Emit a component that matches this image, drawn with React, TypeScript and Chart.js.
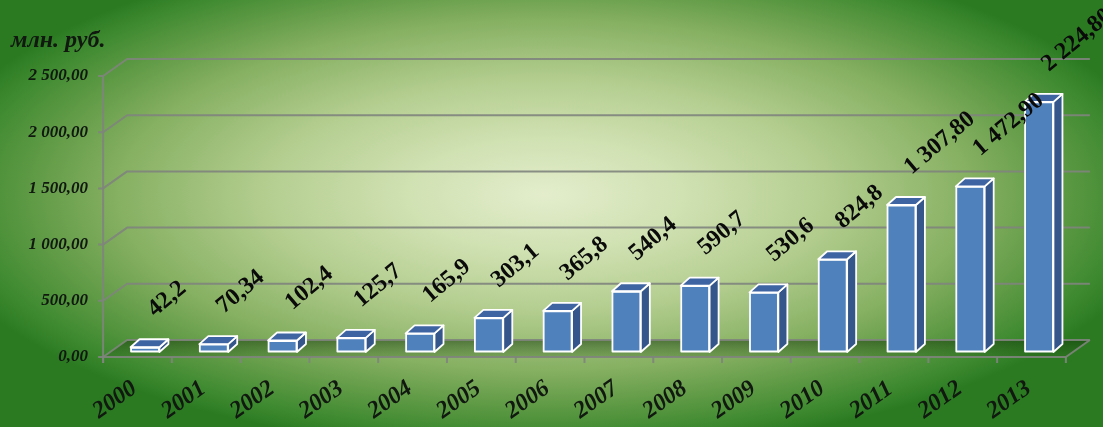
import React, { useEffect, useRef } from 'react';
import { Chart, registerables } from 'chart.js';

Chart.register(...registerables);

const categories = ['2000', '2001', '2002', '2003', '2004', '2005', '2006', '2007', '2008', '2009', '2010', '2011', '2012', '2013'];
const values = [42.2, 70.34, 102.4, 125.7, 165.9, 303.1, 365.8, 540.4, 590.7, 530.6, 824.8, 1307.8, 1472.9, 2224.8];
const valueLabels = ['42,2', '70,34', '102,4', '125,7', '165,9', '303,1', '365,8', '540,4', '590,7', '530,6', '824,8', '1 307,80', '1 472,90', '2 224,80'];
const yMin = 0;
const yMax = 2500;
const yStep = 500;
const unitLabel = 'млн. руб.';

const SERIF = '"Liberation Serif", "Times New Roman", serif';

function formatTick(v: number): string {
  const [ip, dp] = v.toFixed(2).split('.');
  const withSpaces = ip.replace(/\B(?=(\d{3})+(?!\d))/g, ' ');
  return withSpaces + ',' + dp;
}

const BACK = { dx: 16.5, dy: -12 };
const FRONT = { dx: -7.5, dy: 5 };
const BAR_DEPTH = { dx: 9, dy: -8 };

const backgroundPlugin = {
  id: 'bgGradient',
  beforeDraw(chart: any) {
    const { ctx, width, height } = chart;
    const cx = 545, cy = 195, rx = 560, ry = 230;
    ctx.save();
    ctx.translate(cx, cy);
    ctx.scale(1, ry / rx);
    const g = ctx.createRadialGradient(0, 0, 0, 0, 0, rx * 1.12);
    g.addColorStop(0, '#e3edcc');
    g.addColorStop(0.22, '#d0e1b2');
    g.addColorStop(0.45, '#b3cd8f');
    g.addColorStop(0.68, '#86b062');
    g.addColorStop(0.82, '#5f9a45');
    g.addColorStop(0.93, '#3e8a30');
    g.addColorStop(1, '#2b7a22');
    ctx.fillStyle = g;
    const k = rx / ry;
    ctx.fillRect(-cx, -cy * k, width, height * k);
    ctx.restore();
  },
};

const wallsPlugin = {
  id: 'walls3d',
  beforeDatasetsDraw(chart: any) {
    const { ctx, chartArea: a, scales } = chart;
    const y = scales.y;
    const y0 = y.getPixelForValue(0);
    const yTop = y.getPixelForValue(yMax);
    const n = categories.length;
    const catW = a.width / n;

    ctx.save();
    // floor
    ctx.beginPath();
    ctx.moveTo(a.left + FRONT.dx, y0 + FRONT.dy);
    ctx.lineTo(a.right + FRONT.dx, y0 + FRONT.dy);
    ctx.lineTo(a.right + BACK.dx, y0 + BACK.dy);
    ctx.lineTo(a.left + BACK.dx, y0 + BACK.dy);
    ctx.closePath();
    const fg = ctx.createLinearGradient(0, y0 + BACK.dy, 0, y0 + FRONT.dy);
    fg.addColorStop(0, 'rgba(20,60,10,0.55)');
    fg.addColorStop(1, 'rgba(40,90,25,0.25)');
    ctx.fillStyle = fg;
    ctx.fill();

    ctx.strokeStyle = 'rgba(128,132,125,0.9)';
    ctx.lineWidth = 2;
    ctx.lineJoin = 'round';

    // gridlines on side and back walls
    y.ticks.forEach((t: any) => {
      const py = y.getPixelForValue(t.value);
      ctx.beginPath();
      ctx.moveTo(a.left + FRONT.dx - 5, py + FRONT.dy);
      ctx.lineTo(a.left + FRONT.dx, py + FRONT.dy);
      ctx.lineTo(a.left + BACK.dx, py + BACK.dy);
      ctx.lineTo(a.right + BACK.dx, py + BACK.dy);
      ctx.stroke();
    });

    // left vertical axis
    ctx.beginPath();
    ctx.moveTo(a.left + FRONT.dx, yTop + FRONT.dy);
    ctx.lineTo(a.left + FRONT.dx, y0 + FRONT.dy + 6);
    ctx.stroke();

    // floor front and right edges
    ctx.beginPath();
    ctx.moveTo(a.left + FRONT.dx, y0 + FRONT.dy);
    ctx.lineTo(a.right + FRONT.dx, y0 + FRONT.dy);
    ctx.lineTo(a.right + BACK.dx, y0 + BACK.dy);
    ctx.stroke();

    // x tick marks at category boundaries
    for (let i = 0; i <= n; i++) {
      const px = a.left + i * catW + FRONT.dx;
      ctx.beginPath();
      ctx.moveTo(px, y0 + FRONT.dy);
      ctx.lineTo(px, y0 + FRONT.dy + 6);
      ctx.stroke();
    }

    // y tick labels
    ctx.fillStyle = '#101810';
    ctx.font = `bold italic 17px ${SERIF}`;
    ctx.textAlign = 'right';
    ctx.textBaseline = 'middle';
    y.ticks.forEach((t: any) => {
      const py = y.getPixelForValue(t.value);
      ctx.fillText(formatTick(t.value), a.left + FRONT.dx - 15, py + FRONT.dy);
    });

    // unit label
    ctx.font = `bold italic 24px ${SERIF}`;
    ctx.textAlign = 'left';
    ctx.textBaseline = 'alphabetic';
    ctx.fillText(unitLabel, 11, 47);

    // category labels
    const meta = chart.getDatasetMeta(0);
    ctx.font = `bold italic 24px ${SERIF}`;
    ctx.textAlign = 'center';
    ctx.textBaseline = 'middle';
    meta.data.forEach((bar: any, i: number) => {
      ctx.save();
      ctx.translate(bar.x - 30, y0 + 48);
      ctx.rotate((-35 * Math.PI) / 180);
      ctx.fillText(categories[i], 0, 0);
      ctx.restore();
    });
    ctx.restore();
  },
  afterDatasetsDraw(chart: any) {
    const { ctx } = chart;
    const meta = chart.getDatasetMeta(0);
    ctx.save();
    ctx.strokeStyle = '#ffffff';
    ctx.lineWidth = 1.8;
    ctx.lineJoin = 'round';
    meta.data.forEach((bar: any) => {
      const L = bar.x - bar.width / 2;
      const R = bar.x + bar.width / 2;
      const T = bar.y;
      const B = bar.base;
      // side
      ctx.beginPath();
      ctx.moveTo(R, T);
      ctx.lineTo(R + BAR_DEPTH.dx, T + BAR_DEPTH.dy);
      ctx.lineTo(R + BAR_DEPTH.dx, B + BAR_DEPTH.dy);
      ctx.lineTo(R, B);
      ctx.closePath();
      ctx.fillStyle = '#34568a';
      ctx.fill();
      ctx.stroke();
      // top
      ctx.beginPath();
      ctx.moveTo(L, T);
      ctx.lineTo(R, T);
      ctx.lineTo(R + BAR_DEPTH.dx, T + BAR_DEPTH.dy);
      ctx.lineTo(L + BAR_DEPTH.dx, T + BAR_DEPTH.dy);
      ctx.closePath();
      ctx.fillStyle = '#3f64a2';
      ctx.fill();
      ctx.stroke();
      // front outline
      ctx.strokeRect(L + 0.5, T + 0.5, R - L - 1, B - T - 1);
    });

    // value labels
    ctx.fillStyle = '#0a0a0a';
    ctx.font = `bold 24px ${SERIF}`;
    ctx.textAlign = 'left';
    ctx.textBaseline = 'alphabetic';
    meta.data.forEach((bar: any, i: number) => {
      ctx.save();
      ctx.translate(bar.x + 10, bar.y - 30);
      ctx.rotate((-40 * Math.PI) / 180);
      ctx.fillText(valueLabels[i], 0, 0);
      ctx.restore();
    });
    ctx.restore();
  },
};

export default function App() {
  const canvasRef = useRef<HTMLCanvasElement | null>(null);

  useEffect(() => {
    if (!canvasRef.current) return;
    const chart = new Chart(canvasRef.current, {
      type: 'bar',
      data: {
        labels: categories,
        datasets: [
          {
            data: values,
            backgroundColor: '#4f81bd',
            borderColor: '#ffffff',
            borderWidth: 0,
            borderSkipped: false,
            barPercentage: 0.42,
            categoryPercentage: 1,
          },
        ],
      },
      options: {
        responsive: false,
        animation: false,
        devicePixelRatio: 1,
        layout: { padding: { left: 110.6, right: 29.6, top: 71, bottom: 75 } },
        plugins: {
          legend: { display: false },
          tooltip: { enabled: false },
          title: { display: false },
        },
        scales: {
          x: { display: false, offset: true },
          y: { display: false, min: yMin, max: yMax, ticks: { stepSize: yStep } },
        },
      },
      plugins: [backgroundPlugin, wallsPlugin],
    });
    return () => chart.destroy();
  }, []);

  return (
    <div style={{ position: 'fixed', left: 0, top: 0, width: 1103, height: 427 }}>
      <canvas ref={canvasRef} width={1103} height={427} style={{ display: 'block' }} />
    </div>
  );
}
